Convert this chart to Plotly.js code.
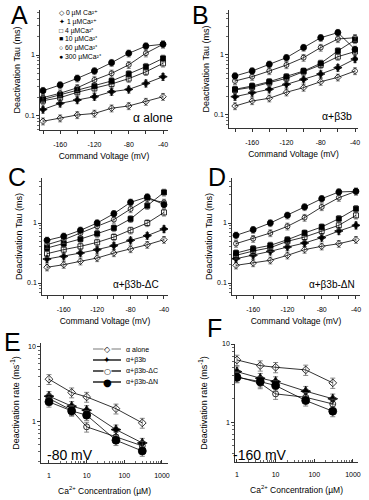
<!DOCTYPE html>
<html><head><meta charset="utf-8">
<script src="https://cdn.plot.ly/plotly-3.0.1.min.js"></script>
<style>html,body{margin:0;padding:0;background:#fff}#chart{width:369px;height:500px}</style>
</head><body><div id="chart"></div>
<script>
// ---------- data ----------
const voltage = [-180, -160, -140, -120, -100, -80, -60, -40];
const voltTickVals = [-160, -120, -80, -40];
const voltTickText = ['-160', '-120', '-80', '-40'];
const voltMinor = [-180, -140, -100, -60];
const caLegend = ['0 µM Ca²⁺', '1 µMCa²⁺', '4 µMCa²⁺', '10 µMCa²⁺', '60 µMCa²⁺', '300 µMCa²⁺'];
const caSymbols = ['◇', '✦', '□', '■', '○', '●'];

// Panel A: alpha alone (tau, ms)
const A_0uM   = [0.082, 0.092, 0.104, 0.110, 0.134, 0.146, 0.172, 0.207];
const A_1uM   = [0.128, 0.161, 0.183, 0.207, 0.250, 0.273, 0.343, 0.440];
const A_4uM   = [0.178, 0.200, 0.245, 0.284, 0.335, 0.410, 0.530, 0.730];
const A_10uM  = [0.187, 0.221, 0.267, 0.310, 0.375, 0.490, 0.644, 0.880];
const A_60uM  = [0.200, 0.236, 0.290, 0.390, 0.500, 0.690, 1.070, 1.500];
const A_300uM = [0.260, 0.322, 0.414, 0.547, 0.748, 1.065, 1.400, 1.500];
// Panel B: alpha + beta3b
const B_0uM   = [0.141, 0.171, 0.190, 0.239, 0.286, 0.359, 0.424, 0.541];
const B_1uM   = [0.202, 0.236, 0.268, 0.324, 0.393, 0.482, 0.615, 0.858];
const B_4uM   = [0.261, 0.290, 0.346, 0.408, 0.527, 0.681, 0.938, 1.140];
const B_10uM  = [0.268, 0.304, 0.359, 0.435, 0.541, 0.726, 1.170, 1.780];
const B_60uM  = [0.369, 0.435, 0.541, 0.681, 0.903, 1.330, 1.850, 1.940];
const B_300uM = [0.447, 0.541, 0.699, 0.903, 1.330, 1.940, 2.360, 1.240];
// Panel C: alpha + beta3b-dC
const C_0uM   = [0.183, 0.202, 0.230, 0.261, 0.316, 0.369, 0.435, 0.527];
const C_1uM   = [0.251, 0.278, 0.316, 0.360, 0.419, 0.514, 0.615, 0.794];
const C_4uM   = [0.308, 0.360, 0.408, 0.476, 0.584, 0.755, 1.000, 1.500];
const C_10uM  = [0.383, 0.453, 0.541, 0.664, 0.826, 1.170, 1.940, 3.240];
const C_60uM  = [0.435, 0.527, 0.681, 0.880, 1.140, 1.710, 2.510, 2.200];
const C_300uM = [0.514, 0.600, 0.755, 1.000, 1.430, 2.210, 2.710, 2.020];
// Panel D: alpha + beta3b-dN
const D_0uM   = [0.197, 0.215, 0.239, 0.289, 0.360, 0.409, 0.452, 0.527];
const D_1uM   = [0.254, 0.289, 0.337, 0.398, 0.464, 0.570, 0.736, 0.915];
const D_4uM   = [0.289, 0.341, 0.388, 0.495, 0.584, 0.736, 0.915, 1.340];
const D_10uM  = [0.316, 0.373, 0.424, 0.527, 0.681, 0.858, 1.180, 1.730];
const D_60uM  = [0.453, 0.548, 0.681, 0.880, 1.230, 1.850, 2.640, 3.370];
const D_300uM = [0.623, 0.774, 1.000, 1.340, 1.850, 2.540, 3.290, 3.370];

// Panels E/F: deactivation rate vs Ca2+
const caConc = [1, 4, 10, 60, 300];
const rateNames = ['α alone', 'α+β3b', 'α+β3b-ΔC', 'α+β3b-ΔN'];
const rateSymbols = ['◇', '✦', '○', '●'];
const E_alpha = [3.70, 2.46, 2.15, 1.50, 0.97];
const E_b3b   = [2.20, 1.62, 1.43, 0.79, 0.525];
const E_dC    = [2.05, 1.43, 0.86, 0.63, 0.48];
const E_dN    = [1.85, 1.40, 1.23, 0.57, 0.41];
const F_alpha = [6.25, 5.29, 5.04, 4.66, 3.18];
const F_b3b   = [4.43, 3.65, 3.31, 2.49, 1.99];
const F_dC    = [3.83, 3.15, 2.30, 2.08, 1.71];
const F_dN    = [3.75, 3.30, 2.94, 1.89, 1.38];

const tauTickVals = [0.1, 1];
const tauTickText = ['0.1', '1'];
const tauMinor = [0.06, 0.07, 0.08, 0.09, 0.2, 0.3, 0.4, 0.5, 0.6, 0.7, 0.8, 0.9, 2, 3, 4, 5];
const rateTickVals = [1, 10];
const rateTickText = ['1', '10'];
const rateMinor = [0.3, 0.4, 0.5, 0.6, 0.7, 0.8, 0.9, 2, 3, 4, 5, 6, 7, 8, 9];
const caTickVals = [1, 10, 100, 1000];
const caTickText = ['1', '10', '100', '1000'];
const caMinor = [2,3,4,5,6,7,8,9,20,30,40,50,60,70,80,90,200,300,400,500,600,700,800,900];

// ---------- styles ----------
const FONT = 'Arial, "Liberation Sans", Helvetica, sans-serif';
const caStyle = [
  {symbol: 'diamond-open', size: 5},
  {symbol: 'star-diamond', size: 6},
  {symbol: 'square-open', size: 5},
  {symbol: 'square', size: 5},
  {symbol: 'circle-open', size: 5},
  {symbol: 'circle', size: 6}
];
const rateStyle = [
  {symbol: 'diamond-open', size: 6, glyph: 8},
  {symbol: 'star-diamond', size: 7, glyph: 9},
  {symbol: 'circle-open', size: 6, glyph: 8},
  {symbol: 'circle', size: 8, glyph: 10}
];
const errStyle = {type: 'percent', value: 13, color: '#555', thickness: 0.7, width: 2};

const traces = [];
const panels = [
  {ax: ['x', 'y'],   series: [A_0uM, A_1uM, A_4uM, A_10uM, A_60uM, A_300uM]},
  {ax: ['x2', 'y2'], series: [B_0uM, B_1uM, B_4uM, B_10uM, B_60uM, B_300uM]},
  {ax: ['x3', 'y3'], series: [C_0uM, C_1uM, C_4uM, C_10uM, C_60uM, C_300uM]},
  {ax: ['x4', 'y4'], series: [D_0uM, D_1uM, D_4uM, D_10uM, D_60uM, D_300uM]}
];
panels.forEach(p => {
  p.series.forEach((s, i) => {
    traces.push({
      x: voltage, y: s, xaxis: p.ax[0], yaxis: p.ax[1],
      type: 'scatter', mode: 'lines+markers', name: caLegend[i], showlegend: false,
      line: {color: '#000', width: 0.8},
      marker: {symbol: caStyle[i].symbol, size: caStyle[i].size, color: '#000', line: {color: '#000', width: 0.8}},
      error_y: errStyle
    });
  });
});
[[E_alpha, E_b3b, E_dC, E_dN, 'x5', 'y5'], [F_alpha, F_b3b, F_dC, F_dN, 'x6', 'y6']].forEach(p => {
  for (let i = 0; i < 4; i++) {
    traces.push({
      x: caConc, y: p[i], xaxis: p[4], yaxis: p[5],
      type: 'scatter', mode: 'lines+markers', name: rateNames[i], showlegend: false,
      line: {color: '#000', width: 0.8},
      marker: {symbol: rateStyle[i].symbol, size: rateStyle[i].size, color: '#000', line: {color: '#000', width: 0.8}},
      error_y: {type: 'percent', value: 15, color: '#555', thickness: 0.7, width: 2.5}
    });
  }
});

const W = 369, H = 500;
const px = v => v / W, py = v => 1 - v / H;
const baseAx = {
  showline: true, linecolor: '#000', linewidth: 0.8, ticks: 'outside', ticklen: 3,
  tickwidth: 0.8, tickcolor: '#000', showgrid: false, zeroline: false,
  tickfont: {family: FONT, size: 7, color: '#000'}
};
function voltX(dom, range, anchor) {
  return Object.assign({}, baseAx, {
    domain: dom, range: range, anchor: anchor, tickmode: 'array',
    tickvals: voltTickVals, ticktext: voltTickText, ticklabelstandoff: 5,
    minor: {tickmode: 'array', tickvals: voltMinor, ticks: 'outside', ticklen: 3, tickcolor: '#000', tickwidth: 0.8},
    title: {text: 'Command Voltage (mV)', font: {family: FONT, size: 8.5, color: '#000'}, standoff: 5}
  });
}
function tauY(dom, range, anchor) {
  return Object.assign({}, baseAx, {
    domain: dom, range: range, anchor: anchor, type: 'log', tickmode: 'array',
    tickvals: tauTickVals, ticktext: tauTickText,
    minor: {tickmode: 'array', tickvals: tauMinor, ticks: 'outside', ticklen: 2, tickcolor: '#000', tickwidth: 0.6},
    title: {text: 'Deactivation Tau (ms)', font: {family: FONT, size: 9, color: '#000'}, standoff: 2}
  });
}
function caX(dom, range, anchor) {
  return Object.assign({}, baseAx, {
    domain: dom, range: range, anchor: anchor, type: 'log', tickmode: 'array',
    tickvals: caTickVals, ticktext: caTickText, ticks: 'inside', ticklabelstandoff: 6,
    minor: {tickmode: 'array', tickvals: caMinor, ticks: 'inside', ticklen: 2, tickcolor: '#000', tickwidth: 0.6},
    title: {text: 'Ca<sup>2+</sup> Concentration (µM)', font: {family: FONT, size: 8.5, color: '#000'}, standoff: 9}
  });
}
function rateY(dom, range, anchor, so) {
  return Object.assign({}, baseAx, {
    domain: dom, range: range, anchor: anchor, type: 'log', tickmode: 'array',
    tickvals: rateTickVals, ticktext: rateTickText,
    minor: {tickmode: 'array', tickvals: rateMinor, ticks: 'outside', ticklen: 2, tickcolor: '#000', tickwidth: 0.6},
    title: {text: 'Deactivation rate (ms<sup>-1</sup>)', font: {family: FONT, size: 9, color: '#000'}, standoff: so}
  });
}

const annotations = [];
const shapes = [];
// panel letters: [letter, left x, top y]
const letters = [['A', 10, 0], ['B', 191, 0], ['C', 7, 162], ['D', 207, 162], ['E', 3, 327], ['F', 206, 313]];
letters.forEach(l => annotations.push({
  text: l[0], xref: 'paper', yref: 'paper', x: px(l[1]), y: py(l[2]), xanchor: 'left', yanchor: 'top',
  showarrow: false, borderpad: 0, font: {family: FONT, size: 25, color: '#000'}
}));
const panelTags = [['α alone', 153, 118, 12], ['α+β3b', 337, 116, 10.5], ['α+β3b-ΔC', 136, 284, 10], ['α+β3b-ΔN', 332, 284, 10], ['-80 mV', 70, 455, 14], ['-160 mV', 260, 455, 14]];
panelTags.forEach(t => annotations.push({
  text: t[0], xref: 'paper', yref: 'paper', x: px(t[1]), y: py(t[2]), xanchor: 'center', yanchor: 'middle',
  showarrow: false, font: {family: FONT, size: t[3], color: '#000'}
}));
// Panel A legend (markers + labels)
caLegend.forEach((lab, i) => annotations.push({
  text: caSymbols[i] + ' ' + lab, xref: 'paper', yref: 'paper', x: px(57), y: py(13 + 8.8 * i),
  xanchor: 'left', yanchor: 'middle', showarrow: false, font: {family: FONT, size: 6.8, color: '#000'}
}));
// Panel E legend (line + marker + label)
rateNames.forEach((lab, i) => {
  const yy = 349 + 11 * i;
  shapes.push({type: 'line', xref: 'paper', yref: 'paper', x0: px(93), x1: px(121), y0: py(yy), y1: py(yy),
    line: {color: i === 0 ? '#555' : '#000', width: i === 0 ? 0.8 : 1.3}});
  annotations.push({text: rateSymbols[i], xref: 'paper', yref: 'paper', x: px(107), y: py(yy), xanchor: 'center', yanchor: 'middle',
    showarrow: false, bgcolor: i % 2 === 0 ? '#fff' : 'rgba(0,0,0,0)', borderpad: 0,
    font: {family: '"DejaVu Sans", sans-serif', size: rateStyle[i].glyph, color: '#000'}});
  annotations.push({text: lab, xref: 'paper', yref: 'paper', x: px(124), y: py(yy), xanchor: 'left', yanchor: 'middle',
    showarrow: false, font: {family: FONT, size: 7, color: '#000'}});
});

const layout = {
  width: W, height: H, margin: {l: 0, r: 0, t: 0, b: 0},
  paper_bgcolor: '#fff', plot_bgcolor: 'rgba(0,0,0,0)',
  font: {family: FONT, color: '#000'},
  showlegend: false,
  xaxis:  voltX([px(40), px(168)], [-183.5, -34.2], 'y'),
  yaxis:  tauY([0.74, 0.98], [-1.23, 0.738], 'x'),
  xaxis2: voltX([px(229), px(358)], [-187, -36.5], 'y2'),
  yaxis2: tauY([0.744, 0.98], [-1.217, 0.75], 'x2'),
  xaxis3: voltX([px(42), px(168)], [-186, -35.2], 'y3'),
  yaxis3: tauY([0.41, 0.644], [-1.2, 0.75], 'x3'),
  xaxis4: voltX([px(232), px(360)], [-184.7, -35.3], 'y4'),
  yaxis4: tauY([0.41, 0.644], [-1.2, 0.75], 'x4'),
  xaxis5: caX([px(41), px(168)], [-0.212, 3.16], 'y5'),
  yaxis5: rateY([0.074, 0.314], [-0.547, 1.05], 'x5', 6),
  xaxis6: caX([px(235), px(358)], [-0.05, 3.13], 'y6'),
  yaxis6: rateY([0.076, 0.312], [-0.51, 1.0], 'x6', 12),
  annotations: annotations,
  shapes: shapes
};
Plotly.newPlot('chart', traces, layout, {displayModeBar: false, staticPlot: true});
</script></body></html>
